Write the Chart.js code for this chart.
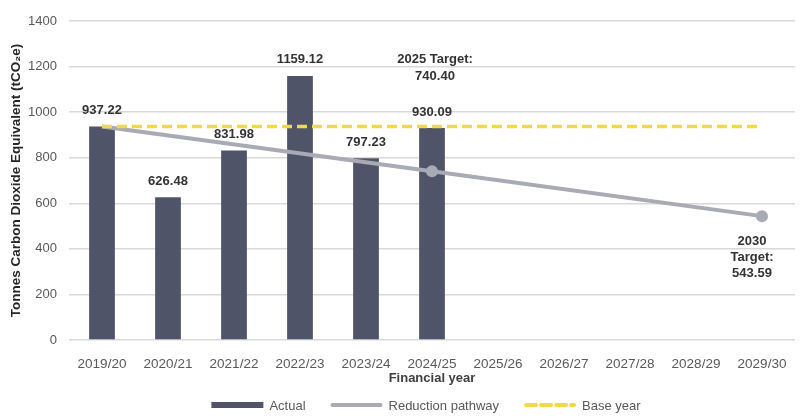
<!DOCTYPE html>
<html lang="en">
<head>
    <meta charset="UTF-8">
    <title>Carbon Emissions Pathway</title>
    <script src="https://cdn.jsdelivr.net/npm/chart.js"></script>
    <style>
        body {
            margin: 0;
            padding: 0;
            background: #fff;
        }
        .chart-wrap {
            width: 804px;
            height: 419px;
        }
    </style>
</head>
<body>
    <div class="chart-wrap">
        <canvas id="emissionsChart" width="804" height="419"></canvas>
    </div>
    <script>
        // Financial years on the x axis
        const years = [
            "2019/20", "2020/21", "2021/22", "2022/23", "2023/24", "2024/25",
            "2025/26", "2026/27", "2027/28", "2028/29", "2029/30"
        ];
        // Actual emissions (tCO2e), none reported after 2024/25
        const actual = [937.22, 626.48, 831.98, 1159.12, 797.23, 930.09, null, null, null, null, null];
        // Reduction pathway: base year, 2025 target, 2030 target
        const pathway = [937.22, null, null, null, null, 740.40, null, null, null, null, 543.59];
        // Base year level drawn across the whole period
        const baseYear = [937.22, null, null, null, null, null, null, null, null, null, 937.22];
        const yTicks = [0, 200, 400, 600, 800, 1000, 1200, 1400];

        const barColor = '#4f5468';
        const pathColor = '#a8aab4';
        const baseColor = '#f2d94c';
        const fontFamily = "'Liberation Sans', Arial, sans-serif";

        // Value labels above bars and the two target callouts
        const labelPlugin = {
            id: 'valueLabels',
            afterDatasetsDraw(chart) {
                const ctx = chart.ctx;
                ctx.save();
                ctx.font = 'bold 13px ' + fontFamily;
                ctx.fillStyle = '#333333';
                ctx.textAlign = 'center';
                ctx.textBaseline = 'middle';

                const bars = chart.getDatasetMeta(0).data;
                actual.forEach((v, i) => {
                    if (v === null) return;
                    const bar = bars[i];
                    ctx.fillText(v.toFixed(2), bar.x, bar.y - 16);
                });

                const pts = chart.getDatasetMeta(1).data;
                const p25 = pts[5];
                ctx.fillText('2025 Target:', p25.x + 3, p25.y - 112);
                ctx.fillText(pathway[5].toFixed(2), p25.x + 3, p25.y - 95);

                const p30 = pts[10];
                ctx.fillText('2030', p30.x - 10, p30.y + 25);
                ctx.fillText('Target:', p30.x - 10, p30.y + 41);
                ctx.fillText(pathway[10].toFixed(2), p30.x - 10, p30.y + 57);
                ctx.restore();
            }
        };

        // Legend drawn below the axis title
        const legendPlugin = {
            id: 'bottomLegend',
            afterDraw(chart) {
                const ctx = chart.ctx;
                const items = [
                    { text: 'Actual', kind: 'box', color: barColor },
                    { text: 'Reduction pathway', kind: 'line', color: pathColor },
                    { text: 'Base year', kind: 'dash', color: baseColor }
                ];
                const boxW = 52, gap = 6, between = 25, y = 405;
                ctx.save();
                ctx.font = '13px ' + fontFamily;
                let total = 0;
                items.forEach((it, i) => {
                    it.w = ctx.measureText(it.text).width;
                    total += boxW + gap + it.w + (i ? between : 0);
                });
                let x = 426 - total / 2;
                items.forEach(it => {
                    ctx.strokeStyle = it.color;
                    ctx.fillStyle = it.color;
                    if (it.kind === 'box') {
                        ctx.fillRect(x, y - 3, boxW, 6);
                    } else {
                        ctx.lineWidth = 4;
                        ctx.lineCap = 'round';
                        ctx.setLineDash(it.kind === 'dash' ? [10, 5] : []);
                        ctx.beginPath();
                        ctx.moveTo(x + 2, y);
                        ctx.lineTo(x + boxW - 2, y);
                        ctx.stroke();
                        ctx.setLineDash([]);
                    }
                    ctx.fillStyle = '#595959';
                    ctx.textBaseline = 'middle';
                    ctx.fillText(it.text, x + boxW + gap, y + 1);
                    x += boxW + gap + it.w + between;
                });
                ctx.restore();
            }
        };

        new Chart(document.getElementById('emissionsChart'), {
            data: {
                labels: years,
                datasets: [
                    {
                        type: 'bar',
                        label: 'Actual',
                        data: actual,
                        backgroundColor: barColor,
                        categoryPercentage: 1,
                        barPercentage: 0.39,
                        order: 3
                    },
                    {
                        type: 'line',
                        label: 'Reduction pathway',
                        data: pathway,
                        borderColor: pathColor,
                        backgroundColor: pathColor,
                        borderWidth: 4,
                        spanGaps: true,
                        pointRadius: ctx => ctx.dataIndex === 0 ? 0 : 6,
                        pointHoverRadius: 6,
                        pointBorderWidth: 0,
                        order: 2
                    },
                    {
                        type: 'line',
                        label: 'Base year',
                        data: baseYear,
                        borderColor: baseColor,
                        borderWidth: 3.5,
                        borderDash: [10, 5],
                        spanGaps: true,
                        pointRadius: 0,
                        order: 1
                    }
                ]
            },
            options: {
                responsive: false,
                animation: false,
                layout: { padding: { top: 21, right: 9, bottom: 29, left: 0 } },
                plugins: {
                    legend: { display: false },
                    tooltip: { enabled: false }
                },
                scales: {
                    x: {
                        grid: { display: false },
                        border: { display: false },
                        ticks: {
                            color: '#595959',
                            font: { family: fontFamily, size: 13.5 },
                            padding: 8,
                            maxRotation: 0,
                            autoSkip: false
                        },
                        title: {
                            display: true,
                            text: 'Financial year',
                            color: '#404040',
                            font: { family: fontFamily, size: 13, weight: 'bold' },
                            padding: { top: 0, bottom: 4 }
                        },
                        afterFit: scale => { scale.height = 50; }
                    },
                    y: {
                        min: 0,
                        max: 1400,
                        afterBuildTicks: scale => { scale.ticks = yTicks.map(v => ({ value: v })); },
                        grid: { color: '#d9d9d9', lineWidth: 1.5, drawTicks: false },
                        border: { display: false },
                        ticks: {
                            color: '#595959',
                            font: { family: fontFamily, size: 13 },
                            padding: 12,
                            callback: v => v
                        },
                        title: {
                            display: true,
                            text: 'Tonnes Carbon Dioxide Equivalent (tCO\u2082e)',
                            color: '#262626',
                            font: { family: fontFamily, size: 13.5, weight: 'bold' },
                            padding: { top: 8, bottom: 0 }
                        },
                        afterFit: scale => { scale.width = 69; }
                    }
                }
            },
            plugins: [labelPlugin, legendPlugin]
        });
    </script>
</body>
</html>
